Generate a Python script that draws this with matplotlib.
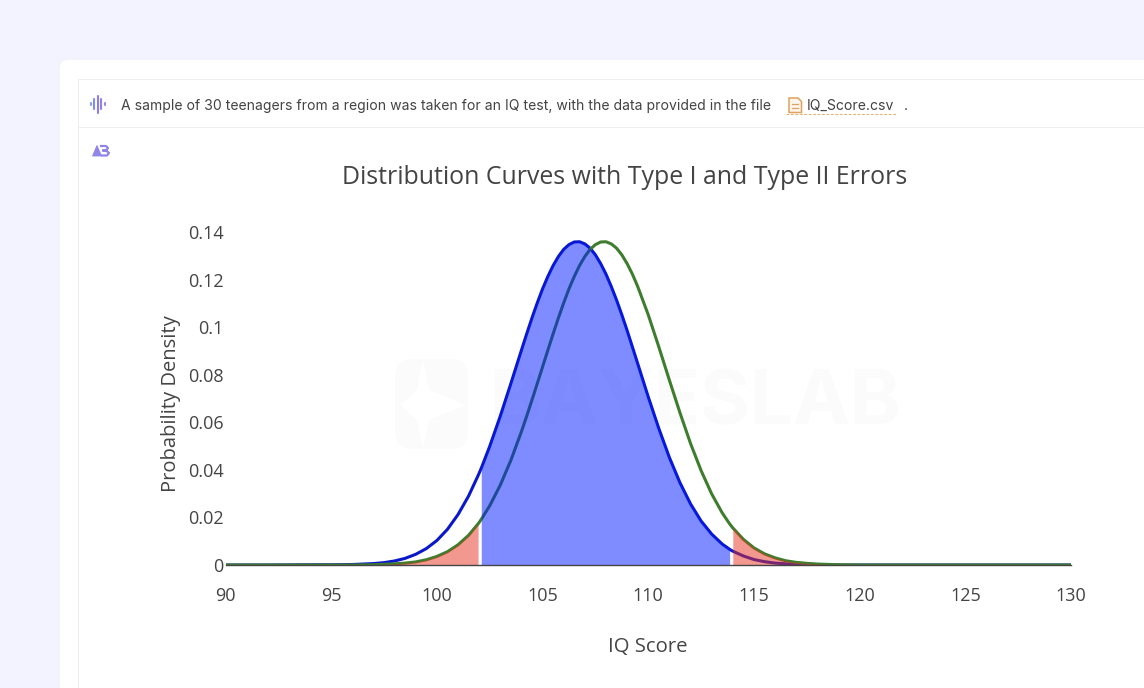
import matplotlib
matplotlib.use('Agg')
import matplotlib.pyplot as plt
from matplotlib.patches import FancyBboxPatch, Polygon, Rectangle
import numpy as np

# values
iq_score = [90, 92, 94, 95, 96, 97, 97.5, 98, 98.5, 99, 99.5, 100, 100.5, 101, 101.5, 101.95, 102, 102.1,
            102.5, 103, 103.5,
            104, 104.25, 104.5, 104.75, 105, 105.25, 105.5, 105.75, 106, 106.25, 106.5, 106.75,
            107, 107.25, 107.5, 107.75, 108, 108.25, 108.5, 108.75, 109, 109.25, 109.5,
            110, 110.5, 111, 111.5, 112, 112.5, 113, 113.5, 113.85, 114, 114.5, 115, 115.5, 116, 116.5,
            117, 117.5, 118, 119, 120, 122, 125, 130]
density_null = [0, 0, 0.0001, 0.0001, 0.0002, 0.0006, 0.0010, 0.0017, 0.0028, 0.0045, 0.0069, 0.0103, 0.0150,
                0.0212, 0.0290, 0.0376, 0.0386, 0.0407,
                0.0499, 0.0626, 0.0763,
                0.0903, 0.0972, 0.1039, 0.1102, 0.1161, 0.1213, 0.1259, 0.1297, 0.1327, 0.1347, 0.1358, 0.1359,
                0.1350, 0.1332, 0.1304, 0.1267, 0.1223, 0.1171, 0.1114, 0.1052, 0.0986, 0.0917, 0.0847,
                0.0707, 0.0574, 0.0452, 0.0346, 0.0257, 0.0185, 0.0130, 0.0088, 0.0066, 0.0058, 0.0038, 0.0023,
                0.0014, 0.0008, 0.0005,
                0.0003, 0.0002, 0.0001, 0, 0, 0, 0, 0]
density_alt = [0, 0, 0, 0, 0, 0.0001, 0.0003, 0.0005, 0.0008, 0.0013, 0.0022, 0.0036, 0.0056, 0.0085, 0.0125,
               0.0173, 0.0179, 0.0192,
               0.0249, 0.0336, 0.0440,
               0.0561, 0.0626, 0.0694, 0.0763, 0.0833, 0.0903, 0.0972, 0.1039, 0.1102, 0.1161, 0.1213, 0.1259,
               0.1297, 0.1327, 0.1347, 0.1358, 0.1359, 0.1350, 0.1332, 0.1304, 0.1267, 0.1223, 0.1171,
               0.1052, 0.0917, 0.0777, 0.0640, 0.0511, 0.0397, 0.0299, 0.0219, 0.0173, 0.0156, 0.0108, 0.0072,
               0.0047, 0.0030, 0.0018,
               0.0011, 0.0007, 0.0004, 0.0001, 0, 0, 0, 0]
crit_low = 101.95
accept_low = 102.1
accept_high = 113.85
crit_high = 114

x_ticks = [90, 95, 100, 105, 110, 115, 120, 125, 130]
y_ticks = [0, 0.02, 0.04, 0.06, 0.08, 0.1, 0.12, 0.14]
y_tick_labels = ['0', '0.02', '0.04', '0.06', '0.08', '0.1', '0.12', '0.14']

title = 'Distribution Curves with Type I and Type II Errors'
x_label = 'IQ Score'
y_label = 'Probability Density'
prompt = 'A sample of 30 teenagers from a region was taken for an IQ test, with the data provided in the file'
file_name = 'IQ_Score.csv'

W, H = 1144, 688
fig = plt.figure(figsize=(W / 100, H / 100), dpi=100, facecolor='#f2f3fe')

# page furniture, in pixel coordinates
bg = fig.add_axes([0, 0, 1, 1])
bg.set_xlim(0, W)
bg.set_ylim(H, 0)
bg.axis('off')
bg.add_patch(FancyBboxPatch((60, 60), 1200, 800, boxstyle='round,pad=0,rounding_size=8', fc='white', ec='none'))
bg.add_patch(Rectangle((78, 79), 1200, 800, fc='white', ec='#eeeef1', lw=0.8))
bg.plot([78, W], [127, 127], color='#eeeef1', lw=0.8)

# audio icon
bar_x = [90.5, 94, 97.5, 101, 104.5]
bar_half = [1, 5, 8.5, 5, 1]
bar_col = ['#7fa0ea', '#7f8ce8', '#8c7fe6', '#8f7fe6', '#9a86e6']
for bx, bh, bc in zip(bar_x, bar_half, bar_col):
    bg.plot([bx, bx], [104 - bh, 104 + bh], color=bc, lw=1.5, solid_capstyle='round')

bg.text(121, 106, prompt, fontsize=10.1, family='Inter', color='#444444', va='center', ha='left')
bg.text(807, 106, file_name, fontsize=10.1, family='Inter', color='#444444', va='center', ha='left')
bg.text(904, 106, '.', fontsize=10.1, family='Inter', color='#444444', va='center', ha='left')
bg.plot([786, 896], [114, 114], color='#e5b574', lw=0.8, ls=(0, (2.5, 1.5)))

# file icon
bg.add_patch(Polygon([(789, 98), (798, 98), (801.5, 101.5), (801.5, 112.5), (789, 112.5)], closed=True,
                     fc='#fdf6ec', ec='#dfa260', lw=1.1))
bg.plot([792, 798], [104, 104], color='#dfa260', lw=0.9)
bg.plot([792, 798], [107.5, 107.5], color='#dfa260', lw=0.9)

# small logo
bg.add_patch(Polygon([(97, 145.5), (101.5, 156), (92.5, 156)], closed=True, fc='#8f86e8', ec='#8f86e8', lw=0.6))
bg.plot([101, 106, 108, 106, 103, 106, 109, 107, 102],
        [146, 146, 148, 150.5, 150.5, 150.5, 153, 155.5, 155.5], color='#8f86e8', lw=1.6)

# faint watermark
bg.add_patch(FancyBboxPatch((395, 359), 73, 90, boxstyle='round,pad=0,rounding_size=18', fc='#fbfbfb', ec='none'))
bg.add_patch(Polygon([(423, 358), (429, 390), (466, 405), (429, 420), (423, 450), (417, 420), (400, 405), (417, 390)],
                     closed=True, fc='white', ec='none'))
bg.text(490, 405, 'BAYESLAB', fontsize=55, family='Inter', weight='bold', color='#fbfbfb', va='center', ha='left')

# plot area: 90 -> 225.5 px, 130 -> 1071 px, 0 -> 565 px, 0.14 -> 232 px
ax = fig.add_axes([225.5 / W, 1 - 565 / H, (1071 - 225.5) / W, (565 - 232) / H])
ax.patch.set_alpha(0)

x = np.array(iq_score)
null = np.array(density_null)
alt = np.array(density_alt)

ax.plot(x, null, color='#0a18cc', lw=2.2, zorder=2)
ax.plot(x, alt, color='#3f7d2e', lw=2.2, zorder=2)

# fills go on top of the lines, that's why the lines change colour under them
low = x <= crit_low
high = x >= crit_high
mid = (x >= accept_low) & (x <= accept_high)
ax.fill_between(x[low], 0, alt[low], color='#e9321e', alpha=0.5, lw=0, zorder=3)
ax.fill_between(x[high], 0, alt[high], color='#e9321e', alpha=0.5, lw=0, zorder=3)
ax.fill_between(x[mid], 0, null[mid], color='#001aff', alpha=0.5, lw=0, zorder=3)

ax.set_xlim(90, 130)
ax.set_ylim(0, 0.14)
ax.set_xticks(x_ticks)
ax.set_yticks(y_ticks)
ax.set_yticklabels(y_tick_labels)
for side in ['top', 'right', 'left']:
    ax.spines[side].set_visible(False)
ax.spines['bottom'].set_color('#444444')
ax.spines['bottom'].set_linewidth(1)
ax.spines['bottom'].set_zorder(4)
ax.tick_params(length=0, labelsize=13, labelcolor='#444444', pad=0)
ax.tick_params(axis='x', pad=16)
ax.tick_params(axis='y', pad=1.5)
for lab in ax.get_xticklabels() + ax.get_yticklabels():
    lab.set_family('Open Sans')

bg.text(624.5, 178, title, fontsize=17.9, family='Open Sans', color='#444444', ha='center', va='center')
bg.text(648, 647, x_label, fontsize=14.6, family='Open Sans', color='#444444', ha='center', va='center')
bg.text(171, 404, y_label, fontsize=14.5, family='Open Sans', color='#444444', ha='center', va='center', rotation=90)

fig.savefig('out.png', dpi=100, facecolor=fig.get_facecolor())
